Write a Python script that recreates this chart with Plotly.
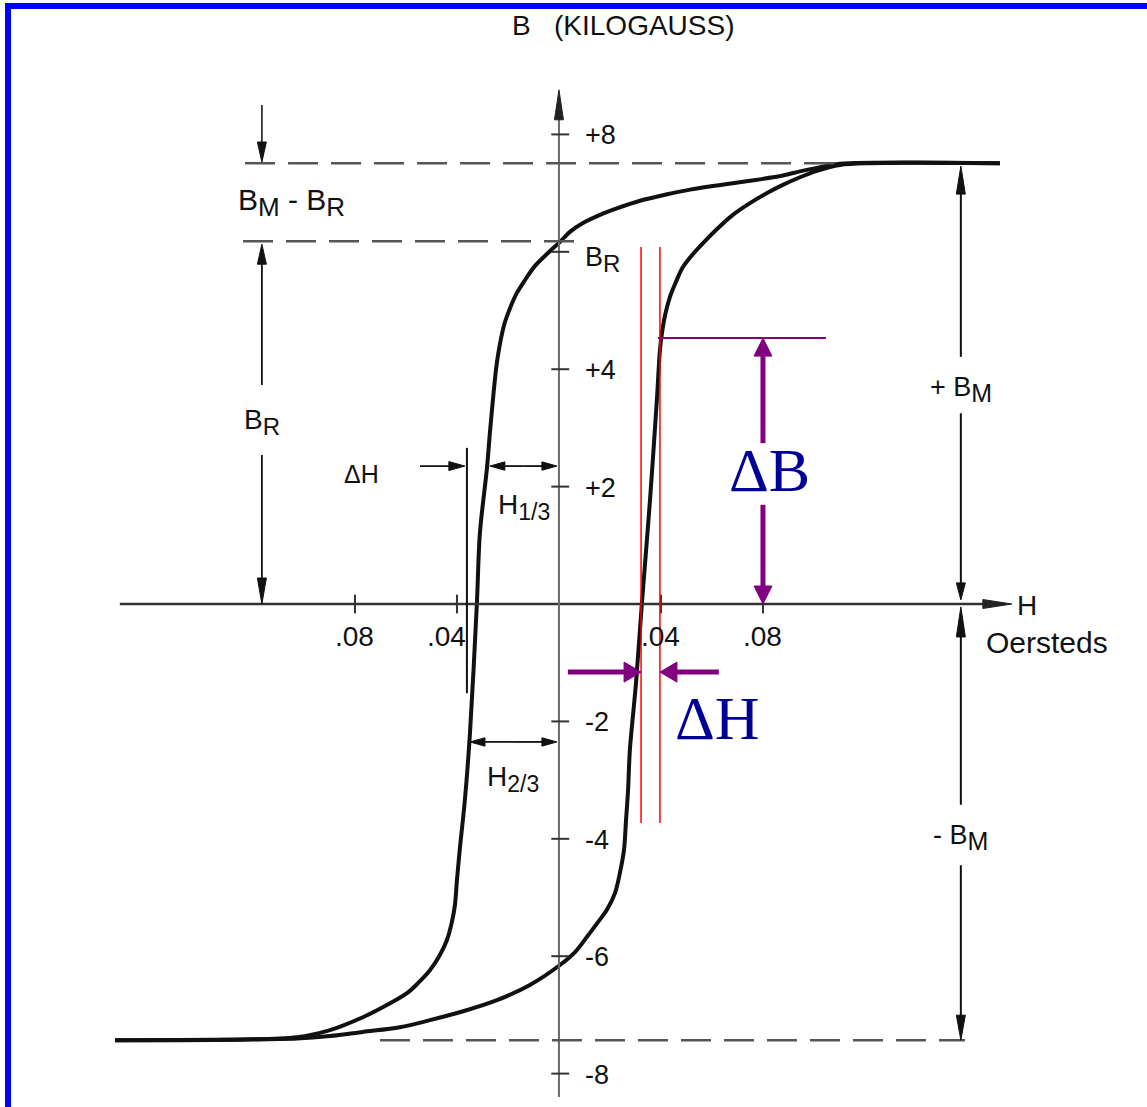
import plotly.graph_objects as go

# ---------------------------------------------------------------
# B-H hysteresis loop (H in oersteds, B in kilogauss)
# ---------------------------------------------------------------
# descending branch: from +B_M saturation down to -B_M saturation
H_DOWN = [0.1729, 0.1102, 0.1012, 0.0945, 0.0878, 0.0749, 0.0620, 0.0514,
          0.0424, 0.0318, 0.0227, 0.0161, 0.0094, 0.0043, 0.0004, -0.0043,
          -0.0094, -0.0133, -0.0165, -0.0192, -0.0212, -0.0227, -0.0239,
          -0.0247, -0.0259, -0.0271, -0.0282, -0.0310, -0.0322, -0.0349,
          -0.0369, -0.0388, -0.0400, -0.0408, -0.0420, -0.0439, -0.0467,
          -0.0506, -0.0553, -0.0596, -0.0682, -0.0769, -0.0898, -0.1027,
          -0.1741]
B_DOWN = [7.51, 7.50, 7.43, 7.37, 7.30, 7.21, 7.13, 7.06,
          6.98, 6.87, 6.74, 6.63, 6.49, 6.34, 6.17, 5.98,
          5.76, 5.52, 5.30, 5.04, 4.80, 4.53, 4.24,
          3.99, 3.48, 2.91, 2.33, 1.21, 0.00, -2.20,
          -3.34, -4.14, -4.70, -5.13, -5.42, -5.72, -5.98,
          -6.24, -6.46, -6.63, -6.85, -7.04, -7.26, -7.38,
          -7.43]

# ascending branch: from -B_M saturation back up to +B_M
H_UP = [-0.1741, -0.1027, -0.0898, -0.0769, -0.0624, -0.0506, -0.0369,
        -0.0243, -0.0114, 0.0004, 0.0063, 0.0110, 0.0153, 0.0188, 0.0220,
        0.0239, 0.0255, 0.0263, 0.0271, 0.0278, 0.0302, 0.0325, 0.0357,
        0.0384, 0.0396, 0.0404, 0.0416, 0.0435, 0.0459, 0.0486, 0.0525,
        0.0565, 0.0620, 0.0682, 0.0749, 0.0816, 0.0878, 0.0945, 0.1012,
        0.1102, 0.1220, 0.1729]
B_UP = [-7.43, -7.40, -7.36, -7.29, -7.21, -7.09, -6.93,
        -6.75, -6.49, -6.15, -5.93, -5.67, -5.42, -5.21, -4.92,
        -4.58, -4.19, -3.68, -3.17, -2.49, -1.35, 0.00, 1.77,
        3.48, 4.33, 4.62, 4.92, 5.23, 5.49, 5.74, 5.96,
        6.15, 6.39, 6.63, 6.83, 7.00, 7.14, 7.27, 7.38,
        7.48, 7.51, 7.51]

B_M_POS = 7.51     # +B_M level
B_M_NEG = -7.43    # -B_M level
B_R = 6.18         # remanence level

H_TICKS = [-0.08, -0.04, 0.04, 0.08]
H_TICK_TEXT = [".08", ".04", ".04", ".08"]
B_TICKS = [8, 6, 4, 2, -2, -4, -6, -8]
B_TICK_TEXT = ["+8", "B<sub><span style='font-size:24px'>R</span></sub>",
               "+4", "+2", "-2", "-4", "-6", "-8"]

# delta-H window on the steep part of the ascending branch, and delta-B height
DH_LEFT, DH_RIGHT = 0.0322, 0.0396
DB_TOP = 4.53

# H positions of the construction lines
H_LEFT_DIM = -0.1165     # B_R / B_M - B_R dimension line
H_RIGHT_DIM = 0.1576     # +B_M / -B_M dimension line
H_DELTA_REF = -0.0361    # reference line for the small delta-H
H_13_CURVE, B_13 = -0.0271, 2.35
H_23_CURVE, B_23 = -0.0349, -2.35
H_DB_ARROW = 0.0800
B_DH_ARROW = -1.16

# ---------------------------------------------------------------
W, HGT = 1147, 1107
X_RANGE = [-0.2192, 0.2306]
Y_RANGE = [-8.569, 10.29]
PX_X = W / (X_RANGE[1] - X_RANGE[0])
PX_Y = HGT / (Y_RANGE[1] - Y_RANGE[0])

SANS = "Liberation Sans, Arial, Helvetica, sans-serif"
SERIF = "Liberation Serif, Times New Roman, serif"
INK = "#111111"
PURPLE = "#800080"
NAVY = "#000099"

shapes = []
annotations = []


def sub(main, low, size):
    """Letter with a large subscript, as lettered on the drawing."""
    return f"{main}<sub><span style='font-size:{size}px'>{low}</span></sub>"


def seg(h0, b0, h1, b1, color=INK, width=2, dash=None):
    line = dict(color=color, width=width)
    if dash:
        line["dash"] = dash
    shapes.append(dict(type="line", xref="x", yref="y", x0=h0, y0=b0,
                       x1=h1, y1=b1, line=line, layer="above"))


def head(h, b, direction, length=18, half=4.5, color=INK):
    dx, db = 1.0 / PX_X, 1.0 / PX_Y
    if direction == "up":
        pts = [(h, b), (h - half * dx, b - length * db), (h + half * dx, b - length * db)]
    elif direction == "down":
        pts = [(h, b), (h - half * dx, b + length * db), (h + half * dx, b + length * db)]
    elif direction == "right":
        pts = [(h, b), (h - length * dx, b + half * db), (h - length * dx, b - half * db)]
    else:
        pts = [(h, b), (h + length * dx, b + half * db), (h + length * dx, b - half * db)]
    path = "M " + " L ".join(f"{x:.6f},{y:.6f}" for x, y in pts) + " Z"
    shapes.append(dict(type="path", xref="x", yref="y", path=path,
                       fillcolor=color, line=dict(color=color, width=1),
                       layer="above"))


def arrow(h0, b0, h1, b1, length=18, half=4.5, color=INK, width=2):
    """Line from (h0,b0) ending in an arrow head at (h1,b1)."""
    dx, db = 1.0 / PX_X, 1.0 / PX_Y
    if h0 == h1:
        direction = "up" if b1 > b0 else "down"
        sgn = 1 if b1 > b0 else -1
        seg(h0, b0, h1, b1 - sgn * length * 0.8 * db, color, width)
    else:
        direction = "right" if h1 > h0 else "left"
        sgn = 1 if h1 > h0 else -1
        seg(h0, b0, h1 - sgn * length * 0.8 * dx, b1, color, width)
    head(h1, b1, direction, length, half, color)


def text(h, b, s, size=27, color=INK, family=SANS, xanchor="center",
         yanchor="middle", xshift=0, yshift=0):
    annotations.append(dict(x=h, y=b, xref="x", yref="y", text=s,
                            showarrow=False, xanchor=xanchor, yanchor=yanchor,
                            xshift=xshift, yshift=yshift,
                            font=dict(size=size, color=color, family=family)))


# ---- axes ------------------------------------------------------
seg(-0.1722, 0, 0.170, 0, color="#333333", width=2.5)
head(0.1776, 0, "right", length=29, half=4.5, color="#222222")
seg(0, -8.40, 0, 8.40, color="#6a6a6a", width=2)
head(0, 8.76, "up", length=30, half=4.5, color="#222222")

for v in B_TICKS:
    seg(-0.0030, v, 0.0040, v, color="#333333", width=2)
for v in H_TICKS:
    seg(v, -0.16, v, 0.16, color="#333333", width=2)

for v, t in zip(B_TICKS, B_TICK_TEXT):
    text(0.0094, v, t, size=27, xanchor="left",
         yshift=-8 if v == 6 else -1)
for v, t in zip(H_TICKS, H_TICK_TEXT):
    text(v, -0.55, t, size=28, xshift=-10 if v == -0.04 else 0)

text(0.0255, 9.85, "B\u00a0\u00a0\u00a0(KILOGAUSS)", size=28)
text(0.1835, -0.02, "H", size=28)
text(0.1914, -0.66, "Oersteds", size=30)

# ---- dashed reference levels -----------------------------------
DASH = "30px,13px"
seg(-0.1231, B_M_POS, 0.110, B_M_POS, color="#555555", width=2.5, dash=DASH)
seg(-0.1239, B_R, 0.0063, B_R, color="#555555", width=2.5, dash=DASH)
seg(-0.0702, B_M_NEG, 0.1592, B_M_NEG, color="#555555", width=2.5, dash=DASH)

# ---- left dimension line: B_M - B_R and B_R ----------------------
seg(H_LEFT_DIM, 8.50, H_LEFT_DIM, B_M_POS + 0.3, color="#333333", width=1.8)
head(H_LEFT_DIM, B_M_POS + 0.02, "down", length=20, half=4.5)
text(-0.1047, 6.84, sub("B", "M", 26) + " - " + sub("B", "R", 26), size=30)
arrow(H_LEFT_DIM, 3.73, H_LEFT_DIM, B_R - 0.05, length=20, half=4.5, width=1.8)
text(H_LEFT_DIM, 3.10, sub("B", "R", 24), size=28)
arrow(H_LEFT_DIM, 2.54, H_LEFT_DIM, 0.0, length=26, half=4.5, width=1.8)

# ---- right dimension line: +B_M and -B_M --------------------------
arrow(H_RIGHT_DIM, 4.21, H_RIGHT_DIM, B_M_POS - 0.05, length=28, half=4.5, width=2)
text(H_RIGHT_DIM, 3.66, "+ " + sub("B", "M", 25), size=27)
arrow(H_RIGHT_DIM, 3.25, H_RIGHT_DIM, 0.07, length=17, half=4.5, width=2)
arrow(H_RIGHT_DIM, -3.42, H_RIGHT_DIM, -0.05, length=30, half=4.5, width=2)
text(H_RIGHT_DIM, -3.98, "- " + sub("B", "M", 25), size=27)
arrow(H_RIGHT_DIM, -4.45, H_RIGHT_DIM, B_M_NEG, length=25, half=4.5, width=2)

# ---- H_1/3, H_2/3 and the small delta-H --------------------------
seg(H_DELTA_REF, 2.66, H_DELTA_REF, -1.52, color=INK, width=2)
arrow(-0.0545, B_13, H_DELTA_REF - 0.0008, B_13, length=16, half=4.5, width=1.8)
text(-0.0773, 2.21, "\u0394H", size=25)

arrow(-0.0140, B_13, H_13_CURVE, B_13, length=15, half=4.2, width=1.8)
arrow(-0.0140, B_13, -0.0008, B_13, length=15, half=4.2, width=1.8)
text(-0.0137, 1.66, sub("H", "1/3", 23), size=28)

arrow(-0.0180, B_23, H_23_CURVE, B_23, length=15, half=4.2, width=1.8)
arrow(-0.0180, B_23, -0.0008, B_23, length=15, half=4.2, width=1.8)
text(-0.0182, -2.98, sub("H", "2/3", 23), size=28)

# ---- delta-H / delta-B construction -----------------------------
seg(DH_LEFT, 6.08, DH_LEFT, -3.73, color="#ff0000", width=1.5)
seg(DH_RIGHT, 6.08, DH_RIGHT, -3.73, color="#ff0000", width=1.5)
seg(0.0388, DB_TOP, 0.1047, DB_TOP, color=PURPLE, width=2)

arrow(H_DB_ARROW, 2.74, H_DB_ARROW, DB_TOP, length=18, half=9, color=PURPLE, width=5)
arrow(H_DB_ARROW, 1.69, H_DB_ARROW, 0.0, length=18, half=9, color=PURPLE, width=5)
text(0.0824, 2.28, "\u0394B", size=62, color=NAVY, family=SERIF)

arrow(0.0035, B_DH_ARROW, DH_LEFT, B_DH_ARROW, length=17, half=10, color=PURPLE, width=5)
arrow(0.0627, B_DH_ARROW, DH_RIGHT, B_DH_ARROW, length=17, half=10, color=PURPLE, width=5)
text(0.0620, -1.94, "\u0394H", size=62, color=NAVY, family=SERIF)

# ---- page frame -------------------------------------------------
shapes.append(dict(type="rect", xref="paper", yref="paper",
                   x0=5 / W, x1=11 / W, y0=0, y1=1 - 3 / HGT,
                   fillcolor="#0000ff", line=dict(width=0), layer="above"))
shapes.append(dict(type="rect", xref="paper", yref="paper",
                   x0=5 / W, x1=1, y0=1 - 9 / HGT, y1=1 - 3 / HGT,
                   fillcolor="#0000ff", line=dict(width=0), layer="above"))

# ---- figure -----------------------------------------------------
fig = go.Figure()
for hs, bs in ((H_DOWN, B_DOWN), (H_UP, B_UP)):
    fig.add_trace(go.Scatter(x=hs, y=bs, mode="lines",
                             line=dict(color="#111111", width=4,
                                       shape="spline", smoothing=0.9),
                             hoverinfo="skip", showlegend=False))

fig.update_layout(
    width=W, height=HGT,
    margin=dict(l=0, r=0, t=0, b=0),
    paper_bgcolor="white", plot_bgcolor="white",
    xaxis=dict(range=X_RANGE, visible=False, fixedrange=True),
    yaxis=dict(range=Y_RANGE, visible=False, fixedrange=True),
    shapes=shapes, annotations=annotations,
    showlegend=False,
)

fig.write_html("out.html", config={"displayModeBar": False})
